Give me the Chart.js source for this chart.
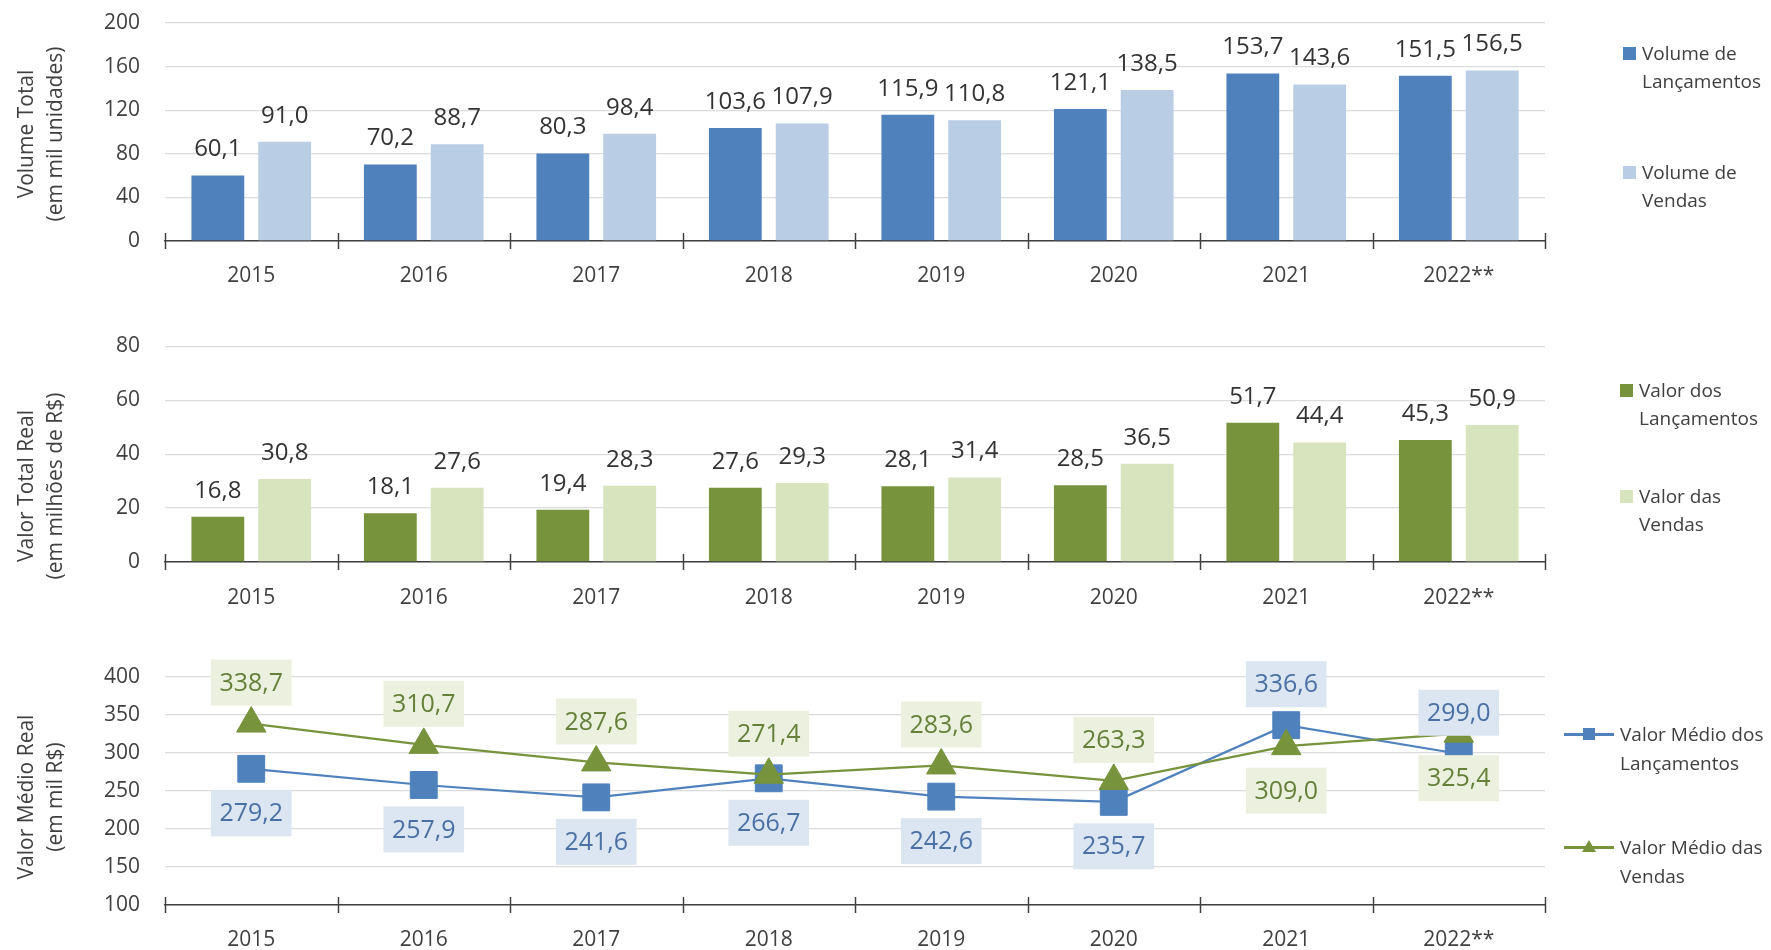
<!DOCTYPE html>
<html>
<head>
<meta charset="utf-8">
<script src="https://cdn.jsdelivr.net/npm/chart.js@4.4.0/dist/chart.umd.min.js"></script>
<style>
  body { margin: 0; background: #fff; font-family: 'Open Sans', sans-serif; color: #404040; }
  #wrap { position: relative; width: 1771px; height: 950px; overflow: hidden; }
  canvas { position: absolute; left: 0; }
  .ytitle { position: absolute; left: -110.5px; width: 300px; height: 58px; line-height: 29px;
            font-size: 21px; text-align: center; transform: rotate(-90deg); white-space: nowrap; }
  .leg { position: absolute; display: flex; align-items: flex-start; font-size: 19px;
         line-height: 28px; white-space: nowrap; }
  .sw { width: 13px; height: 13px; margin-top: 7.5px; margin-right: 6px; flex: none; }
  .ln { position: relative; width: 50px; height: 28px; margin-right: 6px; flex: none; }
  .ln::before { content: ''; position: absolute; left: 0; right: 0; top: 13px; height: 2.5px; background: var(--c); }
  .ln i { position: absolute; left: 19px; top: 8px; width: 12px; height: 12px; background: var(--c); }
  .ln i.tri { width: 0; height: 0; background: none; left: 18px; top: 7px;
              border-left: 7px solid transparent; border-right: 7px solid transparent; border-bottom: 12px solid var(--c); }
</style>
</head>
<body>
<div id="wrap">
  <canvas id="c1" width="1771" height="300" style="top:0"></canvas>
  <canvas id="c2" width="1771" height="320" style="top:300px"></canvas>
  <canvas id="c3" width="1771" height="330" style="top:620px"></canvas>

  <div class="ytitle" style="top:105px">Volume Total<br>(em mil unidades)</div>
  <div class="ytitle" style="top:457px">Valor Total Real<br>(em milhões de R$)</div>
  <div class="ytitle" style="top:768px">Valor Médio Real<br>(em mil R$)</div>

  <div class="leg" style="left:1623px; top:39px"><span class="sw" style="background:#4f81bd"></span><span>Volume de<br>Lançamentos</span></div>
  <div class="leg" style="left:1623px; top:158px"><span class="sw" style="background:#b9cde5"></span><span>Volume de<br>Vendas</span></div>

  <div class="leg" style="left:1620px; top:376px"><span class="sw" style="background:#77933c"></span><span>Valor dos<br>Lançamentos</span></div>
  <div class="leg" style="left:1620px; top:482px"><span class="sw" style="background:#d7e4bd"></span><span>Valor das<br>Vendas</span></div>

  <div class="leg" style="left:1564px; top:720px; line-height:29px"><span class="ln" style="--c:#4f81bd"><i></i></span><span>Valor Médio dos<br>Lançamentos</span></div>
  <div class="leg" style="left:1564px; top:833px; line-height:29px"><span class="ln" style="--c:#77933c"><i class="tri"></i></span><span>Valor Médio das<br>Vendas</span></div>
</div>

<script>
const years = ['2015', '2016', '2017', '2018', '2019', '2020', '2021', '2022**'];

const volLanc   = [60.1, 70.2, 80.3, 103.6, 115.9, 121.1, 153.7, 151.5];
const volVendas = [91.0, 88.7, 98.4, 107.9, 110.8, 138.5, 143.6, 156.5];

const valLanc   = [16.8, 18.1, 19.4, 27.6, 28.1, 28.5, 51.7, 45.3];
const valVendas = [30.8, 27.6, 28.3, 29.3, 31.4, 36.5, 44.4, 50.9];

const medLanc   = [279.2, 257.9, 241.6, 266.7, 242.6, 235.7, 336.6, 299.0];
const medVendas = [338.7, 310.7, 287.6, 271.4, 283.6, 263.3, 309.0, 325.4];

const FONT = "'Open Sans', sans-serif";
const TXT = '#404040';
const AXIS = '#404040';
const GRID = '#dcdcdc';
const BLUE = '#4f81bd', LBLUE = '#b9cde5';
const GREEN = '#77933c', LGREEN = '#d7e4bd';

const fmt = v => v.toFixed(1).replace('.', ',');

// cross-shaped tick marks on the category axis
const crossTicks = {
  id: 'crossTicks',
  afterDraw(chart) {
    const x = chart.scales.x, ctx = chart.ctx;
    const n = x.ticks.length, step = x.width / n;
    ctx.save();
    ctx.strokeStyle = AXIS;
    ctx.lineWidth = 1.5;
    for (let i = 0; i <= n; i++) {
      const px = Math.round(x.left + i * step) + 0.5;
      ctx.beginPath();
      ctx.moveTo(px, x.top - 8);
      ctx.lineTo(px, x.top + 8);
      ctx.stroke();
    }
    ctx.restore();
  }
};

// value labels above bars
const barLabels = {
  id: 'barLabels',
  afterDatasetsDraw(chart, args, opts) {
    const ctx = chart.ctx;
    ctx.save();
    ctx.font = opts.size + 'px ' + FONT;
    ctx.fillStyle = '#333';
    ctx.textAlign = 'center';
    ctx.textBaseline = 'alphabetic';
    chart.data.datasets.forEach((ds, di) => {
      chart.getDatasetMeta(di).data.forEach((bar, i) => {
        ctx.fillText(fmt(ds.data[i]), bar.x, bar.y - opts.offset);
      });
    });
    ctx.restore();
  }
};

// boxed value labels for the line chart
const boxLabels = {
  id: 'boxLabels',
  afterDatasetsDraw(chart, args, opts) {
    const ctx = chart.ctx;
    ctx.save();
    ctx.font = opts.size + 'px ' + FONT;
    ctx.textAlign = 'center';
    ctx.textBaseline = 'middle';
    chart.data.datasets.forEach((ds, di) => {
      chart.getDatasetMeta(di).data.forEach((pt, i) => {
        const txt = fmt(ds.data[i]);
        const w = ctx.measureText(txt).width + 2 * opts.padX;
        const h = opts.boxH;
        const cy = ds.labelAbove(i) ? pt.y - opts.gapAbove - h / 2 : pt.y + opts.gapBelow + h / 2;
        ctx.fillStyle = ds.labelBg;
        ctx.fillRect(pt.x - w / 2, cy - h / 2, w, h);
        ctx.fillStyle = ds.labelColor;
        ctx.fillText(txt, pt.x, cy + 1);
      });
    });
    ctx.restore();
  }
};

function xScale(pad, h) {
  return {
    offset: true,
    grid: { display: true, drawOnChartArea: false, drawTicks: false },
    border: { display: true, color: AXIS, width: 1.5 },
    ticks: { color: TXT, font: { family: FONT, size: 21 }, padding: pad, maxRotation: 0, autoSkip: false },
    afterFit: s => { s.height = h; }
  };
}

function yScale(min, max, step) {
  return {
    min: min, max: max,
    ticks: { stepSize: step, color: TXT, font: { family: FONT, size: 21 }, padding: 25 },
    grid: { color: GRID, lineWidth: 1.3, drawTicks: false },
    border: { display: false },
    afterFit: s => {
      s.width = 165;
      s.paddingTop = 13;
      s.paddingBottom = 13;
    }
  };
}

function barChart(id, a, b, colA, colB, yMax, yStep, padTop, xPad, xH) {
  return new Chart(document.getElementById(id), {
    type: 'bar',
    data: {
      labels: years,
      datasets: [
        { data: a, backgroundColor: colA, categoryPercentage: 0.775, barPercentage: 0.79 },
        { data: b, backgroundColor: colB, categoryPercentage: 0.775, barPercentage: 0.79 }
      ]
    },
    options: {
      responsive: false,
      animation: false,
      devicePixelRatio: 1,
      layout: { padding: { top: padTop, right: 226, left: 0, bottom: 0 } },
      scales: { x: xScale(xPad, xH), y: yScale(0, yMax, yStep) },
      plugins: {
        legend: { display: false },
        tooltip: { enabled: false },
        barLabels: { size: 24, offset: 19 }
      }
    },
    plugins: [barLabels, crossTicks]
  });
}

barChart('c1', volLanc, volVendas, BLUE, LBLUE, 200, 40, 23, 22, 59);
barChart('c2', valLanc, valVendas, GREEN, LGREEN, 80, 20, 46.5, 23, 58);

new Chart(document.getElementById('c3'), {
  type: 'line',
  data: {
    labels: years,
    datasets: [
      {
        label: 'Valor Médio dos Lançamentos',
        data: medLanc,
        borderColor: BLUE, backgroundColor: BLUE, borderWidth: 2.25,
        pointStyle: 'rect', pointRadius: 19, pointBorderWidth: 1,
        pointBackgroundColor: BLUE, pointBorderColor: BLUE,
        tension: 0, order: 1,
        labelAbove: i => i >= 6, labelBg: '#dce6f2', labelColor: '#4a70a4'
      },
      {
        label: 'Valor Médio das Vendas',
        data: medVendas,
        borderColor: GREEN, backgroundColor: GREEN, borderWidth: 2.25,
        pointStyle: 'triangle', pointRadius: 17, pointBorderWidth: 1,
        pointBackgroundColor: GREEN, pointBorderColor: GREEN,
        tension: 0, order: 0,
        labelAbove: i => i < 6, labelBg: '#ebf1de', labelColor: '#66803a'
      }
    ]
  },
  options: {
    responsive: false,
    animation: false,
    devicePixelRatio: 1,
    layout: { padding: { top: 57, right: 226, left: 0, bottom: 0 } },
    scales: { x: xScale(22, 45), y: yScale(100, 400, 50) },
    plugins: {
      legend: { display: false },
      tooltip: { enabled: false },
      boxLabels: { size: 25, padX: 8.5, boxH: 46, gapAbove: 18, gapBelow: 21.5 }
    }
  },
  plugins: [boxLabels, crossTicks]
});
</script>
</body>
</html>
